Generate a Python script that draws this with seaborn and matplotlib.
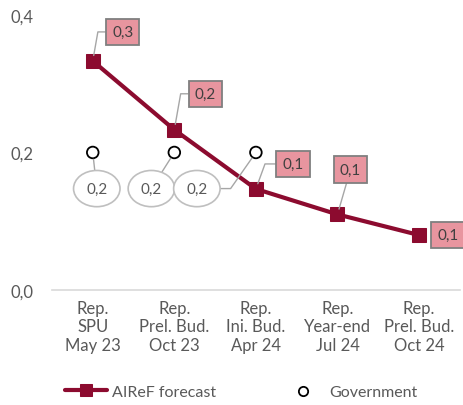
import pandas as pd
import matplotlib.pyplot as plt
import seaborn as sns

# Data
categories = ['Rep.\nSPU\nMay 23', 'Rep.\nPrel. Bud.\nOct 23', 'Rep.\nIni. Bud.\nApr 24',
              'Rep.\nYear-end\nJul 24', 'Rep.\nPrel. Bud.\nOct 24']
airef = [0.333, 0.233, 0.147, 0.110, 0.080]
airef_labels = ['0,3', '0,2', '0,1', '0,1', '0,1']
government = [0.2, 0.2, 0.2, None, None]
gov_labels = ['0,2', '0,2', '0,2']

sns.set_style('white')
plt.rcParams['font.family'] = ['Lato', 'DejaVu Sans']
text_color = '#595959'
red = '#8C0B2F'
pink = '#E8959F'

df = pd.DataFrame({'x': range(len(categories)), 'airef': airef, 'gov': government})

fig = plt.figure(figsize=(4.64, 4.06), dpi=100)
ax = fig.add_axes([0.112, 0.283, 0.879, 0.678])

sns.lineplot(data=df, x='x', y='airef', ax=ax, color=red, linewidth=3,
             marker='s', markersize=10, markeredgecolor=red, label='AIReF forecast', legend=False)
sns.scatterplot(data=df.dropna(), x='x', y='gov', ax=ax, marker='o', s=70,
                facecolor='none', edgecolor='black', linewidth=1.3, label='Government', legend=False)

# AIReF labels (offsets in points)
airef_off = [(21.6, 20.9), (22.3, 25.9), (26.6, 18), (9.4, 32.4), (20.9, 0)]
airef_conn = ['angle,angleA=0,angleB=80', 'angle,angleA=0,angleB=80', 'angle,angleA=0,angleB=70',
              'arc3', None]
for i, (v, lab) in enumerate(zip(airef, airef_labels)):
    ap = None
    if airef_conn[i] is not None:
        ap = dict(arrowstyle='-', color='#a6a6a6', lw=1, connectionstyle=airef_conn[i],
                  shrinkA=0, shrinkB=4)
    ax.annotate(lab, (i, v), xytext=airef_off[i], textcoords='offset points',
                ha='center', va='center', fontsize=11, color='#404040',
                bbox=dict(boxstyle='square,pad=0.4', fc=pink, ec='#7f7f7f', lw=1.3),
                arrowprops=ap)

# Government labels
gov_off = [(2.9, -26), (-16.5, -26), (-42.5, -26)]
gov_conn = ['arc3', 'arc3', 'angle,angleA=0,angleB=55']
for i, lab in enumerate(gov_labels):
    ax.annotate(lab, (i, government[i]), xytext=gov_off[i], textcoords='offset points',
                ha='center', va='center', fontsize=11, color=text_color,
                bbox=dict(boxstyle='ellipse,pad=0.38', fc='white', ec='#bfbfbf', lw=1.2),
                arrowprops=dict(arrowstyle='-', color='#a6a6a6', lw=1, connectionstyle=gov_conn[i],
                                shrinkA=0, shrinkB=5))

ax.set_xlim(-0.5, 4.5)
ax.set_ylim(0, 0.4)
ax.set_yticks([0, 0.2, 0.4])
ax.set_yticklabels(['0,0', '0,2', '0,4'])
ax.set_xticks(range(len(categories)))
ax.set_xticklabels(categories, linespacing=1.2)
ax.tick_params(axis='both', length=0, labelsize=12, labelcolor=text_color)
ax.tick_params(axis='y', pad=13)
ax.tick_params(axis='x', pad=7)
ax.set_xlabel('')
ax.set_ylabel('')
for s in ['top', 'right', 'left']:
    ax.spines[s].set_visible(False)
ax.spines['bottom'].set_color('#d9d9d9')
ax.spines['bottom'].set_linewidth(1.2)

handles, labels = ax.get_legend_handles_labels()
fig.legend(handles, labels, loc='center', bbox_to_anchor=(0.52, 0.033), ncol=2, frameon=False,
           fontsize=11.5, labelcolor=text_color, columnspacing=4.2, handlelength=2.6,
           handletextpad=0.3, markerscale=0.8)

fig.savefig('out.png', dpi=100)
